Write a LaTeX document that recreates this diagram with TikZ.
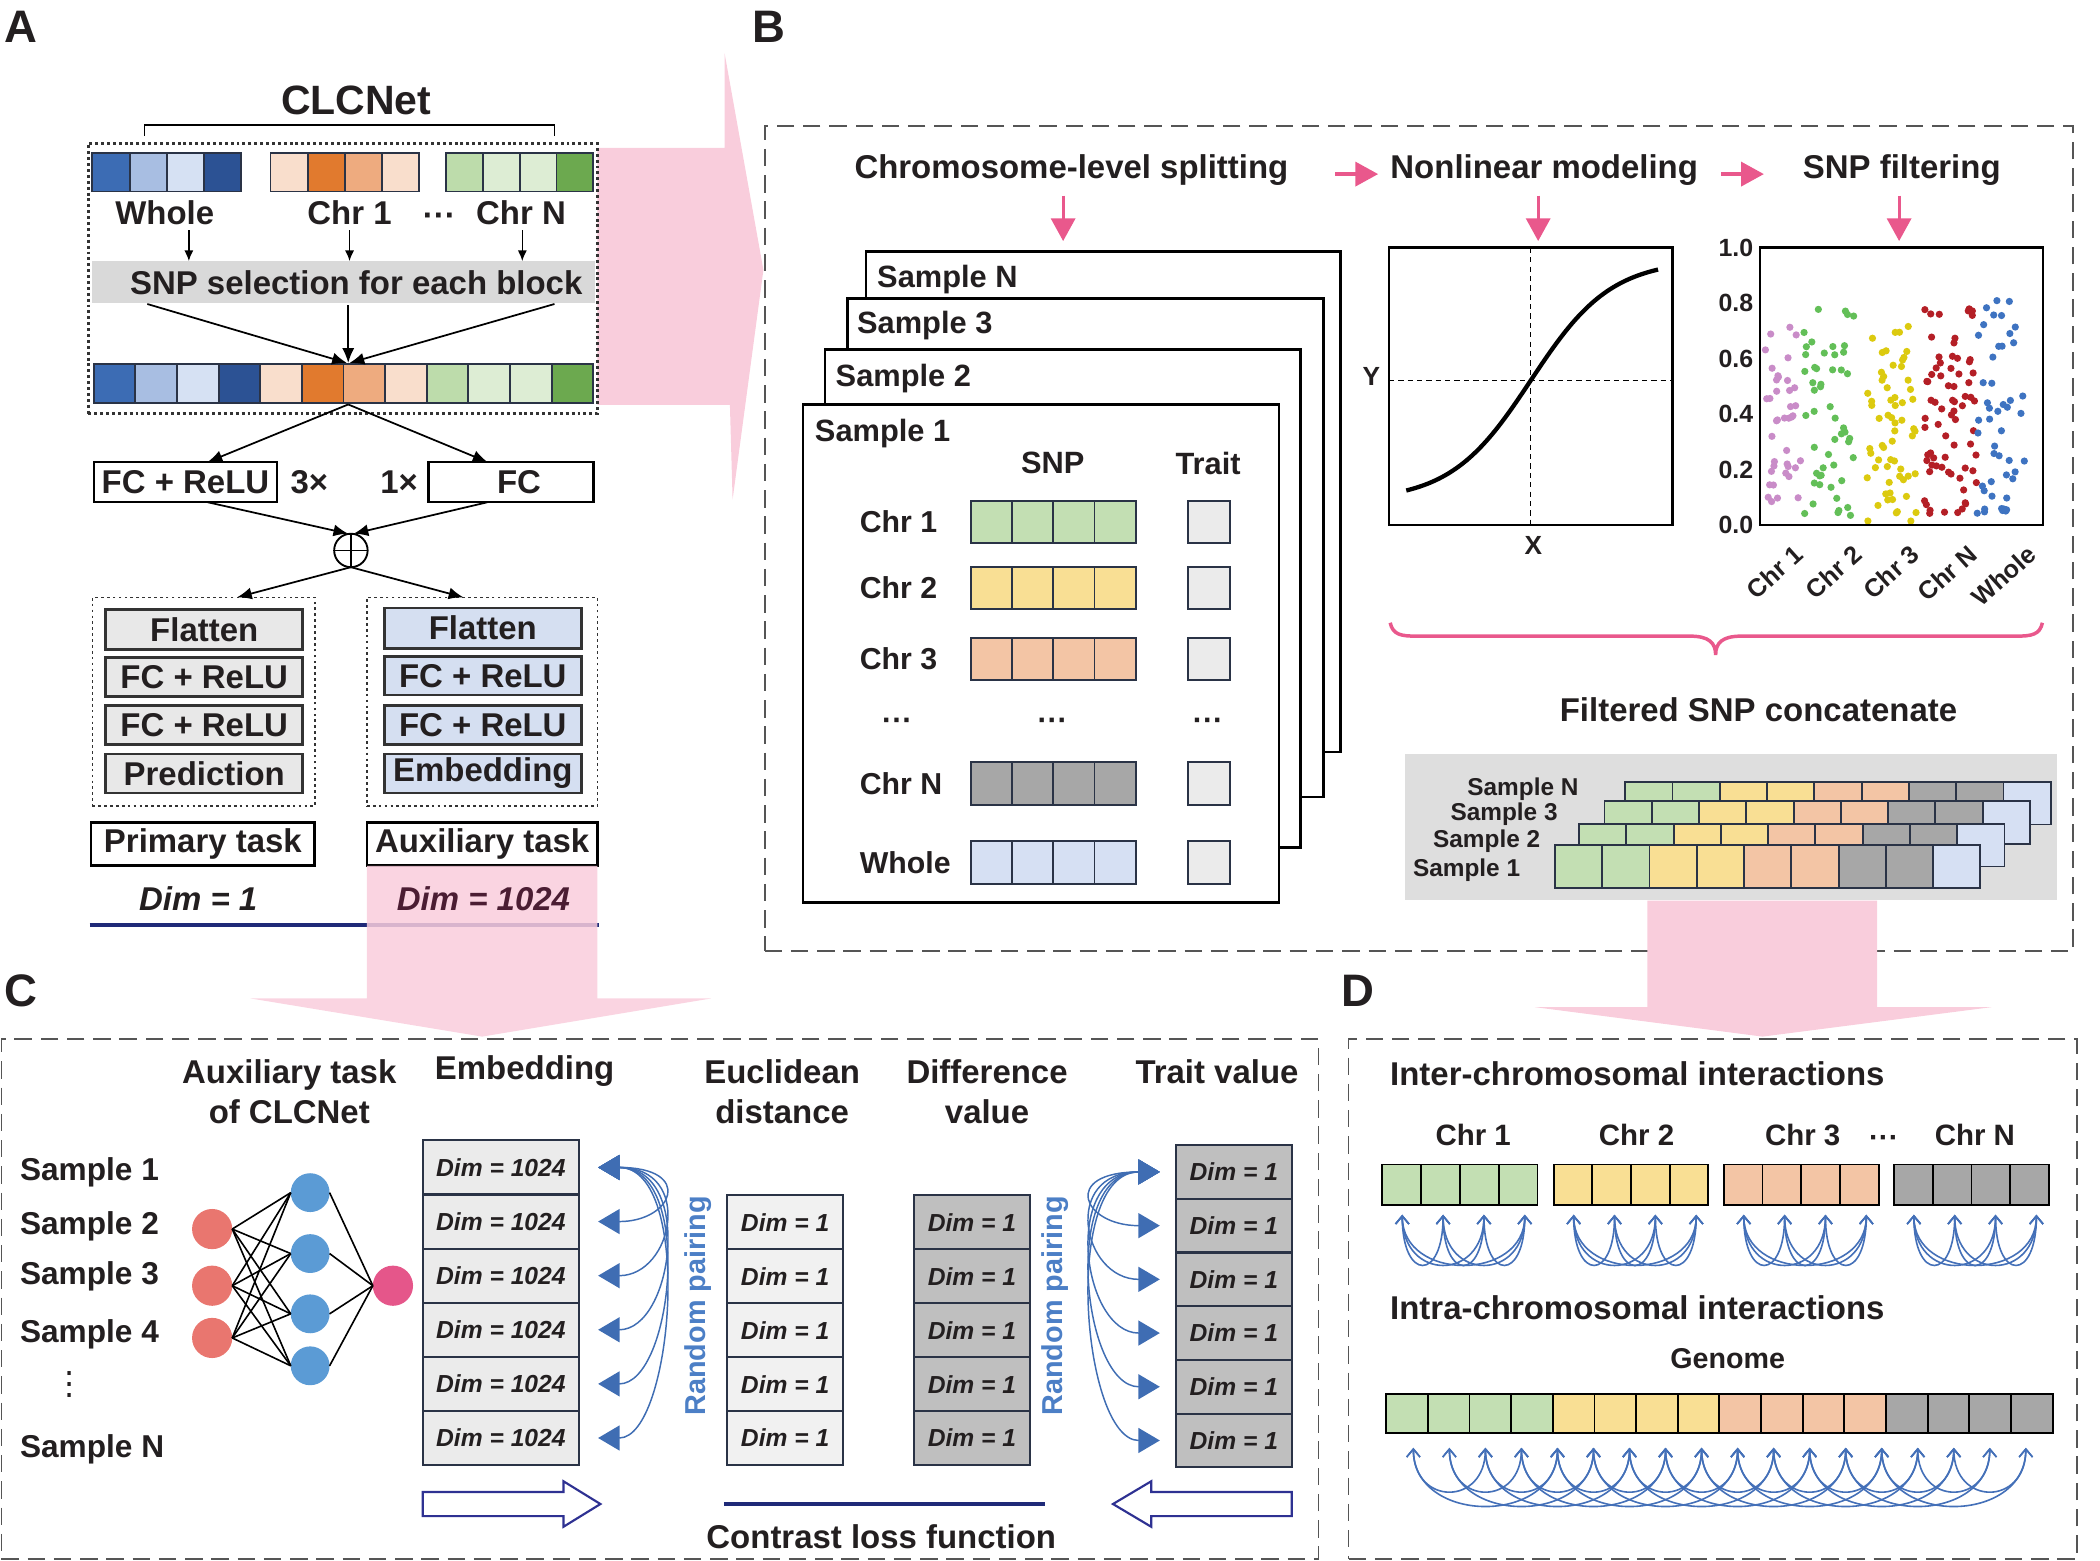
\documentclass[tikz,border=0pt]{standalone}
\usepackage{fontspec}
\setmainfont{Liberation Sans}
\newfontfamily\djv{DejaVu Sans}
\usetikzlibrary{arrows.meta}
\definecolor{ink}{HTML}{231F20}
\definecolor{pinkbig}{HTML}{F9CDDC}
\definecolor{pinkarr}{HTML}{E9588C}
\definecolor{navy}{HTML}{1F2A78}
\definecolor{pblue}{HTML}{3F6DB3}
\definecolor{dblue}{HTML}{4470B8}
\definecolor{rpblue}{HTML}{4C7FC6}
\definecolor{bord}{HTML}{2A3346}
\definecolor{bord2}{HTML}{333333}
\definecolor{dashc}{HTML}{555555}
\definecolor{dotc}{HTML}{333333}
\definecolor{wA}{HTML}{3C6CB4}
\definecolor{wB}{HTML}{A8BEE2}
\definecolor{wC}{HTML}{D6E1F3}
\definecolor{wD}{HTML}{2C5294}
\definecolor{oA}{HTML}{F9DECC}
\definecolor{oB}{HTML}{E17A2E}
\definecolor{oC}{HTML}{EEAB7F}
\definecolor{gA}{HTML}{BDDCAB}
\definecolor{gB}{HTML}{DDEDD4}
\definecolor{gC}{HTML}{6CA94F}
\definecolor{cg}{HTML}{C3DFB3}
\definecolor{cy}{HTML}{F9DF94}
\definecolor{cp}{HTML}{F3C5A5}
\definecolor{cgr}{HTML}{A7A7A7}
\definecolor{clb}{HTML}{D6E0F3}
\definecolor{ctr}{HTML}{EBEBEB}
\definecolor{lgray}{HTML}{E8E8E8}
\definecolor{lblue}{HTML}{D5DFF1}
\definecolor{bandg}{HTML}{D9D9D9}
\definecolor{concg}{HTML}{DEDEDE}
\definecolor{midg}{HTML}{BFBFBF}
\definecolor{eucg}{HTML}{F1F1F1}
\definecolor{dimpink}{HTML}{4B1D33}
\definecolor{dP}{HTML}{C98CC8}
\definecolor{dG}{HTML}{63BF58}
\definecolor{dY}{HTML}{DCCA0F}
\definecolor{dR}{HTML}{B41F26}
\definecolor{dB}{HTML}{3E73C1}
\definecolor{nR}{HTML}{E9766F}
\definecolor{nB}{HTML}{5B9BD5}
\definecolor{nO}{HTML}{E5568A}
\definecolor{hollow}{HTML}{2E3192}
\newcommand\fs[1]{\fontsize{#1}{#1}\selectfont\bfseries}
\newcommand\bx[7][]{%
  \pgfmathsetmacro\bxw{((#5)-(#3))/2}%
  \pgfmathsetmacro\bxh{((#6)-(#4))/2}%
  \pgfmathsetmacro\bxx{((#3)+(#5))/2}%
  \pgfmathsetmacro\bxy{((#4)+(#6))/2}%
  \node[rectangle,minimum width=\bxw pt,minimum height=\bxh pt,inner sep=0pt,outer sep=0pt,#1] (#2) at (\bxx,\bxy) {#7};}
\newcommand\cellrow[6][bord]{%
  \foreach \cellc [count=\celli from 0] in {#6}{%
    \path[draw=#1,line width=0.7pt,fill=\cellc] ({#2+\celli*#4},{#3}) rectangle ++(#4,#5);}}
\newcommand\scat[6]{%
  \foreach \k in {1,...,#1}{%
    \pgfmathsetmacro\px{#2+#3*rnd}%
    \pgfmathsetmacro\py{392-207*(#4+#5*rnd)}%
    \fill[#6] (\px,\py) circle[radius=1.35pt];}}
\begin{document}
\begin{tikzpicture}[x=0.5pt,y=-0.5pt,
  every node/.style={inner sep=0pt,outer sep=0pt,text=ink,font=\fs{12.3}},
  arr/.style={line width=0.65pt,-{Latex[length=5.5pt,width=4.5pt]}},
  sarr/.style={line width=0.6pt,-{Latex[length=4pt,width=3.4pt]}},
  parr/.style={draw=pinkarr,line width=1.2pt,-{Triangle[length=8.5pt,width=9pt]}},
  bcurve/.style={draw=pblue,line width=0.55pt,{Triangle[length=8pt,width=9.3pt]}-{Triangle[length=8pt,width=9.3pt]}},
  dcurve/.style={draw=dblue,line width=0.6pt,{Straight Barb[length=3pt,width=5pt]}-{Straight Barb[length=3pt,width=5pt]}},
  panelbox/.style={draw=dashc,line width=0.6pt,dash pattern=on 6.5pt off 3.3pt},
  ibox/.style={draw=bord2,line width=1pt},
  cbox/.style={draw=bord,line width=0.8pt},
  dimtxt/.style={font=\fs{9.2}\itshape},
  hollowarr/.style={draw=hollow,line width=0.8pt,fill=white}]
\useasboundingbox (0,0) rectangle (1568,1165);

% ================= PANEL A =================
\fill[pinkbig] (446,110.5) -- (541,110.5) -- (541,39.6) -- (570,201.6) -- (547,373) -- (545,302.4) -- (446,302.4) -- cycle;
\node[font=\fs{17}] (labA) at (16,20) {A};
\node[font=\fs{15.3}] (clc) at (266,75) {CLCNet};
\draw[line width=0.6pt] (108,101.5) -- (108,93.5) -- (414,93.5) -- (414,101.5);
\bx[draw=dotc,line width=1.1pt,dash pattern=on 1.1pt off 1.1pt]{abox}{66}{107}{446}{309}{}
\cellrow{69}{114}{27.75}{29}{wA,wB,wC,wD}
\cellrow{202}{114}{27.75}{29}{oA,oB,oC,oA}
\cellrow{333}{114}{27.5}{29}{gA,gB,gB,gC}
\node (lwhole) at (123,159) {Whole};
\node (lchr1) at (261,159) {Chr 1};
\node (ldots) at (328,164) {···};
\node (lchrN) at (389,159) {Chr N};
\bx[fill=bandg]{band}{69}{195}{444}{226}{}
\node (bandtxt) at (266,211) {SNP selection for each block};
\coordinate (a1) at (141,172);
\coordinate (a2) at (261,172);
\coordinate (a3) at (390,172);
\foreach \a in {a1,a2,a3}{\draw[sarr] (\a) -- (\a |- band.north);}
\cellrow{70}{272}{31.08}{29}{wA,wB,wC,wD,oA,oB,oC,oA,gA,gB,gB,gC}
\coordinate (bartop) at (260,271);
\coordinate (barbot) at (260,302);
\coordinate (s1) at (110,227);
\coordinate (s2) at (260,228);
\coordinate (s3) at (414,227);
\draw[arr] (s1) -- ([xshift=-0.5pt]bartop);
\draw[arr] (s2) -- (bartop);
\draw[arr] (s3) -- ([xshift=0.5pt]bartop);
\bx[draw,line width=0.9pt]{fcr}{70}{345}{207}{375}{FC + ReLU}
\node (x3) at (231,360) {3×};
\node (x1) at (298,360) {1×};
\bx[draw,line width=0.9pt]{fc}{320}{345}{443}{375}{\hspace*{6pt}FC}
\draw[arr] (barbot) -- ([xshift=8.25pt]fcr.north);
\draw[arr] (barbot) -- ([xshift=-8.75pt]fc.north);
\node[circle,draw,line width=0.7pt,minimum size=12.5pt] (plus) at (262,411) {};
\draw[line width=0.7pt] (plus.north) -- (plus.south) (plus.west) -- (plus.east);
\draw[arr] ([xshift=8.25pt]fcr.south) -- ([xshift=-1pt]plus.north);
\draw[arr] ([xshift=-8.75pt]fc.south) -- ([xshift=1pt]plus.north);
\bx[draw=bord2,line width=0.6pt,dash pattern=on 1pt off 1.2pt]{prim}{69}{446}{235}{602}{}
\bx[draw=bord2,line width=0.6pt,dash pattern=on 1pt off 1.2pt]{auxb}{274}{446}{446}{602}{}
\draw[arr] (plus.south) -- ([xshift=12.5pt]prim.north);
\draw[arr] (plus.south) -- ([xshift=-7pt]auxb.north);
\bx[ibox,fill=lgray]{p1}{79}{455}{226}{485}{Flatten}
\bx[ibox,fill=lgray]{p2}{79}{491}{226}{520}{FC + ReLU}
\bx[ibox,fill=lgray]{p3}{79}{527}{226}{556}{FC + ReLU}
\bx[ibox,fill=lgray]{p4}{79}{563}{226}{592}{Prediction}
\bx[ibox,fill=lblue]{q1}{287}{454}{434}{484}{Flatten}
\bx[ibox,fill=lblue]{q2}{287}{490}{434}{519}{FC + ReLU}
\bx[ibox,fill=lblue]{q3}{287}{527}{434}{556}{FC + ReLU}
\bx[ibox,fill=lblue]{q4}{287}{563}{434}{592}{Embedding}
\bx[draw,line width=1pt]{ptask}{68}{614}{235}{646}{Primary task}
\bx[draw,line width=1pt]{atask}{274}{614}{446}{646}{Auxiliary task}
\draw[navy,line width=1.3pt] (67,690.5) -- (447,690.5);
\fill[pinkbig,opacity=0.85] (274,646.5) -- (446,646.5) -- (446,745.5) -- (531,745.5) -- (360,774) -- (187,745.5) -- (274,745.5) -- cycle;
\node[font=\fs{12.3}\itshape] (dim1) at (148,671) {Dim = 1};
\node[font=\fs{12.3}\itshape,text=dimpink] (dim1024) at (361,671) {Dim = 1024};

% ================= PANEL B =================
\bx[panelbox]{bbox}{571}{94}{1548}{710}{}
\node[font=\fs{17}] (labB) at (574,20) {B};
\node (h1) at (800,127) {Chromosome-level splitting};
\node (h2) at (1153,127) {Nonlinear modeling};
\node (h3) at (1420,127) {SNP filtering};
\coordinate (pa1) at (997,130); \coordinate (pa2) at (1029,130);
\coordinate (pb1) at (1285,130); \coordinate (pb2) at (1317,130);
\draw[parr] (pa1) -- (pa2);
\draw[parr] (pb1) -- (pb2);
\coordinate (dA) at (793.8,146); \coordinate (dB) at (1148.5,146); \coordinate (dC) at (1418,146);
\foreach \c in {dA,dB,dC}{\draw[parr] (\c) -- ++(0,34);}
\bx[draw,line width=1pt,fill=white]{sN}{646.5}{188}{1001}{561.5}{}
\node[anchor=west,font=\fs{11.5}] (tsN) at (655,209) {Sample N};
\bx[draw,line width=1pt,fill=white]{sThree}{633}{223}{988}{595}{}
\node[anchor=west,font=\fs{11.5}] (ts3) at (640,243) {Sample 3};
\bx[draw,line width=1pt,fill=white]{sTwo}{616}{261}{971}{633}{}
\node[anchor=west,font=\fs{11.5}] (ts2) at (624,283) {Sample 2};
\bx[draw,line width=1pt,fill=white]{sOne}{599.5}{302}{955}{674}{}
\node[anchor=west,font=\fs{11.5}] (ts1) at (608.5,324) {Sample 1};
\node[font=\fs{11.5}] (snph) at (786,345.6) {SNP};
\node[font=\fs{11.5}] (trh) at (902,346) {Trait};
\foreach \lab/\yc/\col [count=\r] in {Chr 1/389.7/cg, Chr 2/439/cy, Chr 3/492/cp, Chr N/585/cgr, Whole/644/clb}{%
  \node[anchor=west,font=\fs{11.3}] (rl\r) at (642,\yc) {\lab};
  \cellrow{725}{\yc-15.75}{30.75}{31.5}{\col,\col,\col,\col}
  \bx[draw=bord,line width=0.7pt,fill=ctr]{tr\r}{887}{\yc-15.75}{918.6}{\yc+15.75}{}
}
\node[font=\fs{11.3}] (dd1) at (670,541) {···};
\node[font=\fs{11.3}] (dd2) at (786,541) {···};
\node[font=\fs{11.3}] (dd3) at (902,541) {···};
% sigmoid
\bx[draw,line width=1pt]{sig}{1037}{185}{1249}{392}{}
\draw[line width=0.45pt,dash pattern=on 2pt off 1.5pt] (1143,185) -- (1143,392) (1037,284) -- (1249,284);
\draw[line width=1.6pt] plot[domain=1050:1238,samples=80] (\x,{284-90*tanh((\x-1143)/60)});
\node[font=\fs{9.8}] (ylab) at (1024,281) {Y};
\node[font=\fs{9.8}] (xlab) at (1145,407) {X};
% scatter
\pgfmathsetseed{11}
\scat{40}{1318}{28}{0.05}{0.70}{dP}
\scat{52}{1347}{38}{0.03}{0.76}{dG}
\scat{62}{1394}{37}{0.01}{0.74}{dY}
\scat{72}{1437}{39}{0.04}{0.74}{dR}
\scat{48}{1476}{36}{0.04}{0.78}{dB}
\bx[draw,line width=1pt]{sct}{1314}{185}{1525.5}{392}{}
\foreach \v/\t in {0/0.0,1/0.2,2/0.4,3/0.6,4/0.8,5/1.0}{\node[anchor=east,font=\fs{9.3}] at (1309,{392-41.4*\v}) {\t};}
\foreach \t/\xx in {Chr 1/1343, Chr 2/1387, Chr 3/1430, Chr N/1473, Whole/1517}{\node[rotate=42,anchor=east,font=\fs{9.4}] at (\xx,411) {\t};}
% brace
\draw[pinkarr,line width=1.3pt] (1038,465) .. controls (1040,474) and (1046,475) .. (1058,475) -- (1262,475) .. controls (1276,475) and (1281,480) .. (1281,489) .. controls (1281,480) and (1286,475) .. (1300,475) -- (1505,475) .. controls (1517,475) and (1523,474) .. (1525,465);
\node (filt) at (1313,530) {Filtered SNP concatenate};
\bx[fill=concg]{conc}{1049}{563}{1536}{672}{}
\cellrow{1213.5}{583.6}{35.3}{32}{cg,cg,cy,cy,cp,cp,cgr,cgr,clb}
\cellrow{1198}{598}{35.3}{32}{cg,cg,cy,cy,cp,cp,cgr,cgr,clb}
\cellrow{1179}{615}{35.3}{32}{cg,cg,cy,cy,cp,cp,cgr,cgr,clb}
\cellrow{1161}{631}{35.3}{32}{cg,cg,cy,cy,cp,cp,cgr,cgr,clb}
\node[anchor=east,font=\fs{9.1}] (cN) at (1178.6,589.5) {Sample N};
\node[anchor=east,font=\fs{9.1}] (c3) at (1163,608) {Sample 3};
\node[anchor=east,font=\fs{9.1}] (c2) at (1150,628) {Sample 2};
\node[anchor=east,font=\fs{9.1}] (c1) at (1135,650) {Sample 1};
\fill[pinkbig] (1230,672.5) -- (1401.6,672.5) -- (1401.6,752) -- (1487,752) -- (1316,774) -- (1146,752) -- (1230,752) -- cycle;

% ================= PANEL C =================
\bx[panelbox]{cpanel}{1}{776}{984.6}{1164}{}
\node[font=\fs{17}] (labC) at (16,740) {C};
\node[align=center,font={\fontsize{12.3}{15}\selectfont\bfseries}] (hc1) at (216,815) {Auxiliary task\\of CLCNet};
\node (hc2) at (391.7,800) {Embedding};
\node[align=center,font={\fontsize{12.3}{15}\selectfont\bfseries}] (hc3) at (584,815) {Euclidean\\distance};
\node[align=center,font={\fontsize{12.3}{15}\selectfont\bfseries}] (hc4) at (737,815) {Difference\\value};
\node (hc5) at (908.7,800) {Trait value};
\foreach \t/\yy [count=\r] in {Sample 1/875.6, Sample 2/915.5, Sample 3/952.8, Sample 4/996, Sample N/1082}{\node[anchor=west,font=\fs{11.8}] (sl\r) at (15,\yy) {\t};}
\node[font={\djv\fontsize{12}{12}\selectfont}] (vd) at (52,1034) {⋮};
\foreach \i/\yy in {1/917.7,2/960,3/999}{\node[circle,fill=nR,minimum size=15pt] (r\i) at (158.4,\yy) {};}
\foreach \i/\yy in {1/890.5,2/936,3/981,4/1019.8}{\node[circle,fill=nB,minimum size=14.5pt] (b\i) at (231.6,\yy) {};}
\node[circle,fill=nO,minimum size=15pt] (o1) at (293.4,960) {};
\foreach \i in {1,2,3}{\foreach \j in {1,2,3,4}{\draw[line width=0.6pt] (r\i.east) -- (b\j.west);}}
\foreach \j in {1,2,3,4}{\draw[line width=0.6pt] (b\j.east) -- (o1.west);}
\foreach \k in {1,...,6}{\bx[cbox,fill=ctr,dimtxt]{e\k}{315.7}{851.5+40.4*(\k-1)}{432.3}{891.9+40.4*(\k-1)}{Dim = 1024}}
\foreach \k in {1,...,5}{\bx[cbox,fill=eucg,dimtxt]{u\k}{543}{892.4+40.3*(\k-1)}{629.5}{932.7+40.3*(\k-1)}{Dim = 1}}
\foreach \k in {1,...,5}{\bx[cbox,fill=midg,dimtxt]{d\k}{682.5}{892.4+40.3*(\k-1)}{769}{932.7+40.3*(\k-1)}{Dim = 1}}
\foreach \k in {1,...,6}{\bx[cbox,fill=midg,dimtxt]{t\k}{878}{855+40.1*(\k-1)}{964.5}{895.1+40.1*(\k-1)}{Dim = 1}}
\foreach \k in {2,...,6}{\draw[bcurve] ([xshift=7.15pt]e1.east) .. controls +(36pt,0) and +(28pt,0) .. ([xshift=7.15pt]e\k.east);}
\foreach \k in {2,...,6}{\draw[bcurve] ([xshift=-6pt]t1.west) .. controls +(-37pt,0) and +(-29pt,0) .. ([xshift=-6pt]t\k.west);}
\node[rotate=90,text=rpblue,font=\fs{10.75}] (rp1) at (521,975) {Random pairing};
\node[rotate=90,text=rpblue,font=\fs{10.75}] (rp2) at (787.8,975) {Random pairing};
\draw[hollowarr] (315.7,1114) -- (420.7,1114) -- (420.7,1106) -- (448.3,1123) -- (420.7,1140) -- (420.7,1132) -- (315.7,1132) -- cycle;
\draw[hollowarr] (964.5,1114) -- (859.6,1114) -- (859.6,1106) -- (831,1123) -- (859.6,1140) -- (859.6,1132) -- (964.5,1132) -- cycle;
\draw[navy,line width=1.5pt] (540.5,1123) -- (780,1123);
\node (clf) at (658,1147.7) {Contrast loss function};

% ================= PANEL D =================
\bx[panelbox]{dpanel}{1007}{776}{1551}{1164}{}
\node[font=\fs{17}] (labD) at (1014,740) {D};
\node[anchor=west] (hd1) at (1038,801.5) {Inter-chromosomal interactions};
\foreach \t/\xx in {Chr 1/1100, Chr 2/1222, Chr 3/1346, Chr N/1474.6}{\node[font=\fs{11}] at (\xx,847.5) {\t};}
\node[font=\fs{11}] (ddd) at (1406.6,852) {···};
\cellrow[black]{1032}{869.5}{29}{30}{cg,cg,cg,cg}
\cellrow[black]{1160}{869.5}{28.9}{30}{cy,cy,cy,cy}
\cellrow[black]{1287}{869.5}{29}{30}{cp,cp,cp,cp}
\cellrow[black]{1414}{869.5}{29}{30}{cgr,cgr,cgr,cgr}
\foreach \bl in {1032,1160,1287,1414}{\foreach \i/\j in {0/1,0/2,0/3,1/2,1/3,2/3}{%
  \draw[dcurve] ({\bl+15+30.5*\i},907) .. controls ({\bl+15+30.5*\i},957) and ({\bl+15+30.5*\j},957) .. ({\bl+15+30.5*\j},907);}}
\node[anchor=west] (hd2) at (1038,976.6) {Intra-chromosomal interactions};
\node[font=\fs{10.7}] (gen) at (1290,1014.5) {Genome};
\cellrow[black]{1035}{1040.7}{31.1}{29.5}{cg,cg,cg,cg,cy,cy,cy,cy,cp,cp,cp,cp,cgr,cgr,cgr,cgr}
\foreach \i in {0,...,15}{\draw[dcurve] ({1055.3+26.9*\i},1081) .. controls ({1055.3+26.9*\i},1124.7) and ({1055.3+26.9*(\i+2)},1124.7) .. ({1055.3+26.9*(\i+2)},1081);}
\foreach \i in {0,...,13}{\draw[dcurve] ({1055.3+26.9*\i},1081) .. controls ({1055.3+26.9*\i},1139) and ({1055.3+26.9*(\i+4)},1139) .. ({1055.3+26.9*(\i+4)},1081);}
\end{tikzpicture}
\end{document}
